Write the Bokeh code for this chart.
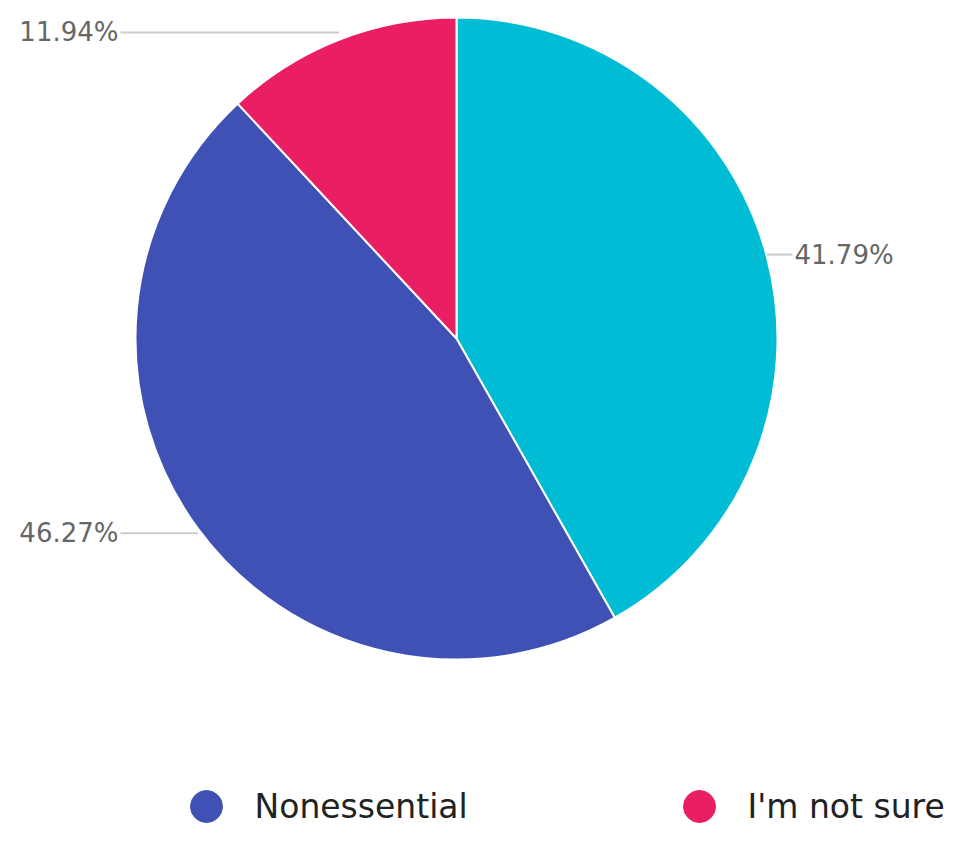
import numpy as np
from bokeh.plotting import figure
from bokeh.models import Range1d, ColumnDataSource
from bokeh.core.properties import value
from bokeh.embed import file_html
from bokeh.resources import INLINE

# ---- data ----
categories = ["Essential", "Nonessential", "I'm not sure"]
shares = [41.79, 46.27, 11.94]
colors = ["#00BCD4", "#3F51B5", "#E91E63"]
legend_names = ["Nonessential", "I'm not sure"]
legend_colors = ["#3F51B5", "#E91E63"]

# ---- layout (picture pixel space, y measured downward from top) ----
W, H = 948, 829
cx, cy_top = 456, 338
R = 321
R_LABEL = 329
LABEL_GAP = 15
legend_x = [206, 699]
legend_text_dx = 48
legend_y_top = 806

def Y(y_top):
    return H - y_top

p = figure(width=W, height=H, output_backend="svg", toolbar_location=None,
           x_range=Range1d(0, W), y_range=Range1d(0, H),
           min_border=0, outline_line_color=None)
p.axis.visible = False
p.grid.visible = False
p.background_fill_color = "white"

vals = np.array(shares)
frac = vals / vals.sum()
theta_end = np.cumsum(frac) * 2 * np.pi
theta_start = theta_end - frac * 2 * np.pi
start_angle = np.pi / 2 - theta_end
end_angle = np.pi / 2 - theta_start

src = ColumnDataSource(dict(start=start_angle, end=end_angle, color=colors, cat=categories))
p.wedge(x=cx, y=Y(cy_top), radius=R, start_angle="start", end_angle="end",
        fill_color="color", line_color="white", line_width=2, source=src)

# labels with leader lines
mid = (theta_start + theta_end) / 2
for t, v in zip(mid, shares):
    ex = cx + R * np.sin(t)
    ey = Y(cy_top) + R_LABEL * np.cos(t)
    right = np.sin(t) >= 0
    lx = cx + (R + LABEL_GAP) * (1 if right else -1)
    lx_text = lx + (2 if right else -2)
    p.line([ex, lx], [ey, ey], line_color="#cccccc", line_width=2)
    p.text(x=[lx_text], y=[ey], text=[f"{v:.2f}%"], text_font=value("DejaVu Sans"),
           text_font_size="26px", text_color="#666666", text_baseline="middle",
           text_align="left" if right else "right")

# legend
for lx, name, col in zip(legend_x, legend_names, legend_colors):
    p.scatter(x=[lx], y=[Y(legend_y_top)], size=32, marker="circle",
              fill_color=col, line_color=col)
    p.text(x=[lx + legend_text_dx], y=[Y(legend_y_top)], text=[name],
           text_font=value("DejaVu Sans"), text_font_size="33px", text_color="#222222",
           text_baseline="middle", text_align="left")

open("out.html", "w").write(file_html(p, INLINE))
